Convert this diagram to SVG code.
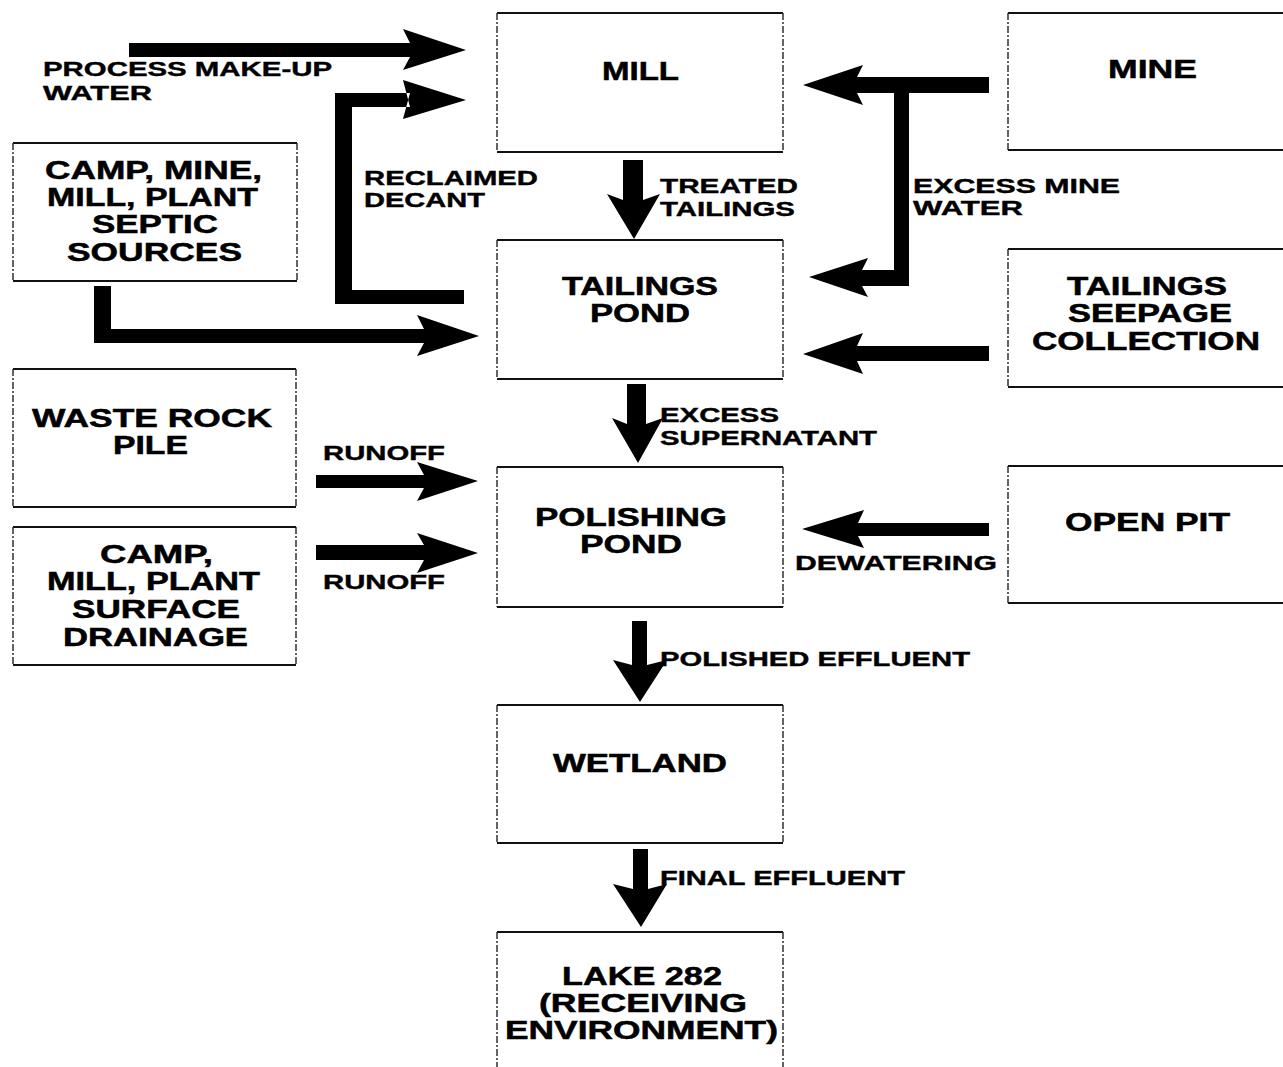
<svg xmlns="http://www.w3.org/2000/svg" width="1283" height="1067" viewBox="0 0 1283 1067">
<style>
.bg{fill:#fff}
.h{stroke:#111;stroke-width:2;fill:none}
.v{stroke:#222;stroke-width:1.4;stroke-dasharray:7 2 2 2;fill:none}
.n{font-family:"Liberation Sans",Arial,sans-serif;font-weight:bold;font-size:25px;fill:#000;stroke:#000;stroke-width:0.5}
.l{font-family:"Liberation Sans",Arial,sans-serif;font-weight:bold;font-size:21px;fill:#000;stroke:#000;stroke-width:0.4}
.a{fill:#000}
</style>
<rect class="bg" x="0" y="0" width="1283" height="1067"/>

<g id="mill">
<path class="h" d="M497,13 H783 M497,152 H783"/><path class="v" d="M497,13 V152 M783,13 V152"/>
<text class="n" x="602" y="80" textLength="77" lengthAdjust="spacingAndGlyphs">MILL</text>
</g>
<g id="mine">
<path class="h" d="M1008,13 H1290 M1008,150 H1290"/><path class="v" d="M1008,13 V150"/>
<text class="n" x="1108" y="78" textLength="89" lengthAdjust="spacingAndGlyphs">MINE</text>
</g>
<g id="septic">
<path class="h" d="M13,143 H297 M13,281 H297"/><path class="v" d="M13,143 V281 M297,143 V281"/>
<text class="n" x="45" y="179" textLength="217" lengthAdjust="spacingAndGlyphs">CAMP, MINE,</text>
<text class="n" x="47" y="206" textLength="211" lengthAdjust="spacingAndGlyphs">MILL, PLANT</text>
<text class="n" x="92" y="233" textLength="126" lengthAdjust="spacingAndGlyphs">SEPTIC</text>
<text class="n" x="67" y="261" textLength="175" lengthAdjust="spacingAndGlyphs">SOURCES</text>
</g>
<g id="tailings-pond">
<path class="h" d="M497,240 H783 M497,379 H783"/><path class="v" d="M497,240 V379 M783,240 V379"/>
<text class="n" x="562" y="295" textLength="156" lengthAdjust="spacingAndGlyphs">TAILINGS</text>
<text class="n" x="590" y="322" textLength="100" lengthAdjust="spacingAndGlyphs">POND</text>
</g>
<g id="seepage">
<path class="h" d="M1008,249 H1290 M1008,387 H1290"/><path class="v" d="M1008,249 V387"/>
<text class="n" x="1067" y="295" textLength="160" lengthAdjust="spacingAndGlyphs">TAILINGS</text>
<text class="n" x="1068" y="322" textLength="164" lengthAdjust="spacingAndGlyphs">SEEPAGE</text>
<text class="n" x="1032" y="350" textLength="228" lengthAdjust="spacingAndGlyphs">COLLECTION</text>
</g>
<g id="waste-rock">
<path class="h" d="M13,369 H296 M13,507 H296"/><path class="v" d="M13,369 V507 M296,369 V507"/>
<text class="n" x="32" y="427" textLength="240" lengthAdjust="spacingAndGlyphs">WASTE ROCK</text>
<text class="n" x="113" y="454" textLength="75" lengthAdjust="spacingAndGlyphs">PILE</text>
</g>
<g id="surface">
<path class="h" d="M13,527 H296 M13,665 H296"/><path class="v" d="M13,527 V665 M296,527 V665"/>
<text class="n" x="100" y="563" textLength="113" lengthAdjust="spacingAndGlyphs">CAMP,</text>
<text class="n" x="47" y="590" textLength="213" lengthAdjust="spacingAndGlyphs">MILL, PLANT</text>
<text class="n" x="72" y="618" textLength="168" lengthAdjust="spacingAndGlyphs">SURFACE</text>
<text class="n" x="63" y="646" textLength="185" lengthAdjust="spacingAndGlyphs">DRAINAGE</text>
</g>
<g id="polishing-pond">
<path class="h" d="M497,467 H783 M497,607 H783"/><path class="v" d="M497,467 V607 M783,467 V607"/>
<text class="n" x="535" y="526" textLength="192" lengthAdjust="spacingAndGlyphs">POLISHING</text>
<text class="n" x="580" y="553" textLength="102" lengthAdjust="spacingAndGlyphs">POND</text>
</g>
<g id="open-pit">
<path class="h" d="M1008,466 H1290 M1008,603 H1290"/><path class="v" d="M1008,466 V603"/>
<text class="n" x="1065" y="531" textLength="165" lengthAdjust="spacingAndGlyphs">OPEN PIT</text>
</g>
<g id="wetland">
<path class="h" d="M497,705 H783 M497,843 H783"/><path class="v" d="M497,705 V843 M783,705 V843"/>
<text class="n" x="553" y="772" textLength="174" lengthAdjust="spacingAndGlyphs">WETLAND</text>
</g>
<g id="lake">
<path class="h" d="M497,932 H783"/><path class="v" d="M497,932 V1067 M783,932 V1067"/>
<text class="n" x="562" y="985" textLength="160" lengthAdjust="spacingAndGlyphs">LAKE 282</text>
<text class="n" x="539" y="1012" textLength="208" lengthAdjust="spacingAndGlyphs">(RECEIVING</text>
<text class="n" x="505" y="1039" textLength="273" lengthAdjust="spacingAndGlyphs">ENVIRONMENT)</text>
</g>

<g id="connectors">
<path class="a" d="M129,43 H410 L403,29 L466,50 L403,70 L410,57 H129 Z"/>
<path class="a" d="M464,290 H352 V107 H410 L403,80 L466,100 L403,119 L410,93 H335 V304 H464 Z"/>
<path class="a" d="M94,286 H111 V329 H424 L417,315 L479,336 L417,356 L424,343 H94 Z"/>
<path class="a" d="M989,77 H857 L863,65 L803,85 L863,105 L857,93 H894 V270 H862 L868,258 L809,277 L868,297 L862,286 H909 V93 H989 Z"/>
<path class="a" d="M989,346 H857 L863,333 L803,354 L863,374 L857,361 H989 Z"/>
<path class="a" d="M989,523 H858 L864,510 L802,529 L864,548 L858,536 H989 Z"/>
<path class="a" d="M316,475 H424 L417,462 L478,481 L417,501 L424,488 H316 Z"/>
<path class="a" d="M316,545 H424 L417,533 L478,553 L417,573 L424,560 H316 Z"/>
<path class="a" d="M623,160 H643 V200 L660,194 L634,239 L607,194 L623,200 Z"/>
<path class="a" d="M627,384 H646 V424 L663,418 L638,463 L612,418 L627,424 Z"/>
<path class="a" d="M632,621 H647 V665 L667,660 L640,702 L613,660 L632,665 Z"/>
<path class="a" d="M633,849 H648 V889 L667,884 L641,927 L613,884 L633,889 Z"/>
<text class="l" x="43" y="76" textLength="289" lengthAdjust="spacingAndGlyphs">PROCESS MAKE-UP</text>
<text class="l" x="43" y="100" textLength="109" lengthAdjust="spacingAndGlyphs">WATER</text>
<text class="l" x="364" y="185" textLength="174" lengthAdjust="spacingAndGlyphs">RECLAIMED</text>
<text class="l" x="364" y="207" textLength="121" lengthAdjust="spacingAndGlyphs">DECANT</text>
<text class="l" x="660" y="193" textLength="138" lengthAdjust="spacingAndGlyphs">TREATED</text>
<text class="l" x="660" y="216" textLength="135" lengthAdjust="spacingAndGlyphs">TAILINGS</text>
<text class="l" x="913" y="193" textLength="207" lengthAdjust="spacingAndGlyphs">EXCESS MINE</text>
<text class="l" x="913" y="215" textLength="110" lengthAdjust="spacingAndGlyphs">WATER</text>
<text class="l" x="323" y="460" textLength="122" lengthAdjust="spacingAndGlyphs">RUNOFF</text>
<text class="l" x="323" y="589" textLength="122" lengthAdjust="spacingAndGlyphs">RUNOFF</text>
<text class="l" x="660" y="422" textLength="119" lengthAdjust="spacingAndGlyphs">EXCESS</text>
<text class="l" x="660" y="445" textLength="217" lengthAdjust="spacingAndGlyphs">SUPERNATANT</text>
<text class="l" x="795" y="570" textLength="202" lengthAdjust="spacingAndGlyphs">DEWATERING</text>
<text class="l" x="660" y="666" textLength="310" lengthAdjust="spacingAndGlyphs">POLISHED EFFLUENT</text>
<text class="l" x="660" y="885" textLength="245" lengthAdjust="spacingAndGlyphs">FINAL EFFLUENT</text>
</g>
</svg>
